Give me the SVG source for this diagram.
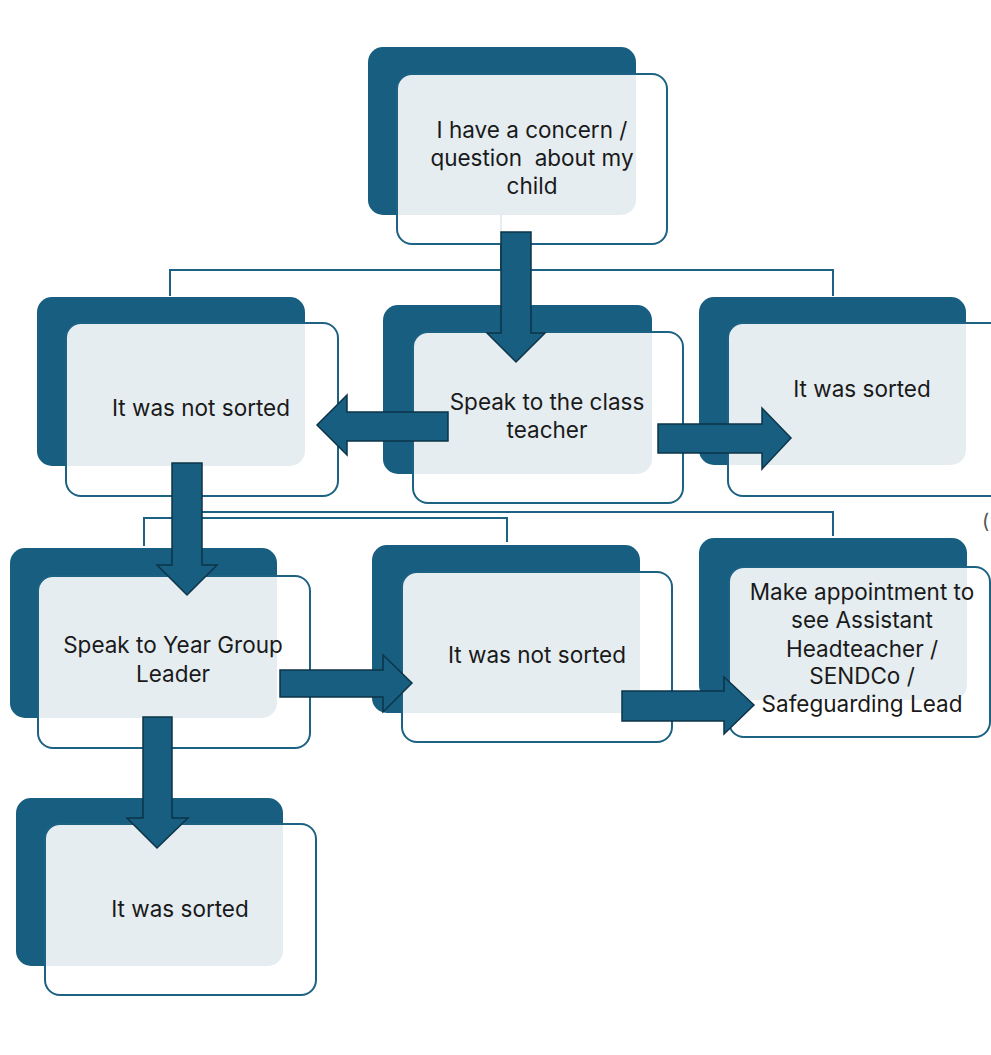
<svg xmlns="http://www.w3.org/2000/svg" width="991" height="1055" viewBox="0 0 991 1055">
<style>
.bg{fill:#ffffff}
.dk{fill:#175e80}
.fr{fill:#ffffff;fill-opacity:0.89;stroke:#1d6283;stroke-width:2}
.ln{fill:none;stroke:#1d6283;stroke-width:2}
.ar{fill:#175e80;stroke:#0d3447;stroke-width:1.5;stroke-linejoin:miter}
.tx{font-family:Inter,"Liberation Sans",sans-serif;font-size:22.5px;fill:#1a1a1a;text-anchor:middle}
</style>
<rect class="bg" x="0" y="0" width="991" height="1055"/>
<g id="connector-lines">
<line class="ln" x1="501" y1="200" x2="501" y2="270"/>
<polyline class="ln" points="170,296 170,270 833,270 833,296"/>
<polyline class="ln" points="175,512 833,512 833,536"/>
<polyline class="ln" points="144,546 144,518 507,518 507,542"/>
</g>
<g id="node-concern">
<rect class="dk" x="368" y="47" width="268" height="168" rx="15"/>
<rect class="fr" x="397" y="74" width="270" height="170" rx="15"/>
<text class="tx" x="532" y="138">I have a concern /</text>
<text class="tx" x="532" y="166" xml:space="preserve">question  about my</text>
<text class="tx" x="532" y="194">child</text>
</g>
<g id="node-not-sorted-1">
<rect class="dk" x="37" y="297" width="268" height="169" rx="15"/>
<rect class="fr" x="66" y="323" width="272" height="173" rx="15"/>
<text class="tx" x="201" y="416">It was not sorted</text>
</g>
<g id="node-class-teacher">
<rect class="dk" x="383" y="305" width="269" height="169" rx="15"/>
<rect class="fr" x="413" y="332" width="270" height="171" rx="15"/>
<text class="tx" x="547" y="410">Speak to the class</text>
<text class="tx" x="547" y="438">teacher</text>
</g>
<g id="node-sorted-1">
<rect class="dk" x="699" y="297" width="267" height="168" rx="15"/>
<rect class="fr" x="728" y="323" width="280" height="173" rx="15"/>
<text class="tx" x="862" y="397">It was sorted</text>
</g>
<g id="node-year-group">
<rect class="dk" x="10" y="548" width="267" height="170" rx="15"/>
<rect class="fr" x="38" y="576" width="272" height="172" rx="15"/>
<text class="tx" x="173" y="653">Speak to Year Group</text>
<text class="tx" x="173" y="682">Leader</text>
</g>
<g id="node-not-sorted-2">
<rect class="dk" x="372" y="545" width="268" height="168" rx="15"/>
<rect class="fr" x="402" y="572" width="270" height="170" rx="15"/>
<text class="tx" x="537" y="663">It was not sorted</text>
</g>
<g id="node-appointment">
<rect class="dk" x="699" y="538" width="268" height="162" rx="15"/>
<rect class="fr" x="729" y="567" width="261" height="170" rx="15"/>
<text class="tx" x="862" y="600">Make appointment to</text>
<text class="tx" x="862" y="628">see Assistant</text>
<text class="tx" x="862" y="657">Headteacher /</text>
<text class="tx" x="862" y="684">SENDCo /</text>
<text class="tx" x="862" y="712">Safeguarding Lead</text>
<text x="982" y="528" style="font-family:Inter,'Liberation Sans',sans-serif;font-size:20px;fill:#555555">(</text>
</g>
<g id="node-sorted-2">
<rect class="dk" x="16" y="798" width="267" height="168" rx="15"/>
<rect class="fr" x="45" y="824" width="271" height="171" rx="15"/>
<text class="tx" x="180" y="917">It was sorted</text>
</g>
<g id="connectors">
<polygon class="ar" points="501,232 531,232 531,333 545,333 516,362 487,333 501,333"/>
<polygon class="ar" points="448,412 448,441 347,441 347,455 317,425 347,395 347,412"/>
<polygon class="ar" points="658,424 762,424 762,408 791,438 762,469 762,453 658,453"/>
<polygon class="ar" points="172,463 202,463 202,565 217,565 187,595 157,565 172,565"/>
<polygon class="ar" points="280,670 383,670 383,655 412,683 383,712 383,697 280,697"/>
<polygon class="ar" points="622,691 724,691 724,677 754,705 724,734 724,721 622,721"/>
<polygon class="ar" points="143,717 172,717 172,818 188,818 157,848 127,818 143,818"/>
</g>
</svg>
